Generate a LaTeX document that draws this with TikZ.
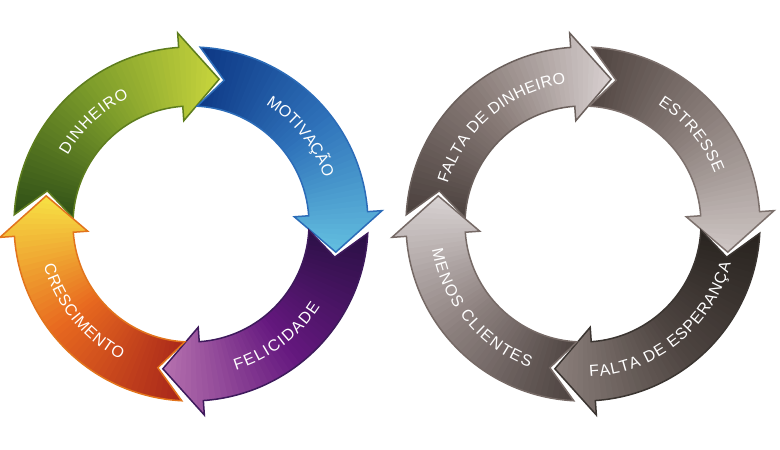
\documentclass[tikz,border=0pt]{standalone}
\usepackage{fontspec}
\newfontfamily\arrowfam{Liberation Sans}
\usetikzlibrary{decorations.text}
\newcommand\arrowfont{\arrowfam\fontsize{16}{16}\selectfont}
% left cycle colours
\definecolor{gTail}{HTML}{2F4F17}\definecolor{gMid}{HTML}{7A9A2A}\definecolor{gHead}{HTML}{C9D63D}\definecolor{gLine}{HTML}{5E7D1E}
\definecolor{bTail}{HTML}{0D3784}\definecolor{bMid}{HTML}{2F72BA}\definecolor{bHead}{HTML}{64C0E0}\definecolor{bLine}{HTML}{2C6CB8}
\definecolor{pTail}{HTML}{2A1045}\definecolor{pMid}{HTML}{65187F}\definecolor{pHead}{HTML}{B773AF}\definecolor{pLine}{HTML}{3E1A5C}
\definecolor{oTail}{HTML}{A8261A}\definecolor{oMid}{HTML}{E8691F}\definecolor{oHead}{HTML}{F7E445}\definecolor{oLine}{HTML}{E2741C}
% right cycle colours
\definecolor{aTail}{HTML}{4A403D}\definecolor{aMid}{HTML}{8A7D79}\definecolor{aHead}{HTML}{D9D1D1}\definecolor{aLine}{HTML}{6B605C}
\definecolor{eTail}{HTML}{4F4440}\definecolor{eMid}{HTML}{8E827E}\definecolor{eHead}{HTML}{CFC7C5}\definecolor{eLine}{HTML}{7D716D}
\definecolor{fTail}{HTML}{28231F}\definecolor{fMid}{HTML}{4E4541}\definecolor{fHead}{HTML}{8C807C}\definecolor{fLine}{HTML}{3B3531}
\definecolor{mTail}{HTML}{4D4340}\definecolor{mMid}{HTML}{8E8280}\definecolor{mHead}{HTML}{DAD4D4}\definecolor{mLine}{HTML}{766A66}

% #1 cx, #2 cy, #3 tip angle, #4 tail, #5 mid, #6 head, #7 border
\newcommand\cycarrow[7]{%
\begin{scope}[shift={(#1,#2)}]
\pgfmathsetmacro\T{#3}\pgfmathsetmacro\B{#3+15}%
\pgfmathsetmacro\A{#3+88}\pgfmathsetmacro\C{#3+98}%
\def\shapepath{(\C:177) arc[start angle=\C, end angle=\B, radius=177] -- (\B:191.5) -- (\T:147.5) -- (\B:103.5) -- (\B:118) arc[start angle=\B, end angle=\C, radius=118] -- (\A:147.5) -- cycle}%
\begin{scope}
\clip \shapepath;
\foreach \i in {0,...,50}{%
  \pgfmathsetmacro\ang{\C+1-2*\i}%
  \pgfmathsetmacro\f{min(100,max(0,(\C-\ang+1)/(\C-\T)*100))}%
  \ifdim\f pt<50pt
    \pgfmathtruncatemacro\g{2*\f}\colorlet{cc}{#5!\g!#4}%
  \else
    \pgfmathtruncatemacro\g{2*\f-100}\colorlet{cc}{#6!\g!#5}%
  \fi
  \fill[cc] (0,0) -- (\ang:205) -- ({\ang-2.6}:205) -- cycle;
}
\end{scope}
\draw[draw=#7, line width=1.5pt, line join=miter] \shapepath;
\end{scope}}

% #1 cx, #2 cy, #3 radius, #4 start angle, #5 end angle, #6 text
\newcommand\arctext[6]{%
\begin{scope}[shift={(#1,#2)}]
\path[decorate, decoration={text along path, text color=white, text align={fit to path}, text={|\arrowfont|#6}}] (#4:#3) arc[start angle=#4, end angle=#5, radius=#3];
\end{scope}}

\begin{document}
\begin{tikzpicture}[x=1pt, y=1pt]
\useasboundingbox[fill=white] (0,0) rectangle (780,450);
% left cycle, centre (191,226)
\cycarrow{191}{226}{79}{gTail}{gMid}{gHead}{gLine}
\cycarrow{191}{226}{-11}{bTail}{bMid}{bHead}{bLine}
\cycarrow{191}{226}{-101}{pTail}{pMid}{pHead}{pLine}
\cycarrow{191}{226}{169}{oTail}{oMid}{oHead}{oLine}
% right cycle, centre (583,226)
\cycarrow{583}{226}{79}{aTail}{aMid}{aHead}{aLine}
\cycarrow{583}{226}{-11}{eTail}{eMid}{eHead}{eLine}
\cycarrow{583}{226}{-101}{fTail}{fMid}{fHead}{fLine}
\cycarrow{583}{226}{169}{mTail}{mMid}{mHead}{mLine}
% labels
\arctext{191}{226}{141}{151}{116}{DINHEIRO}
\arctext{191}{226}{141}{58}{19}{MOTIVAÇÃO}
\arctext{191}{226}{153}{-73}{-32.5}{FELICIDADE}
\arctext{191}{226}{153}{195.7}{242.6}{CRESCIMENTO}
\arctext{583}{226}{141}{163.5}{97}{FALTA DE DINHEIRO}
\arctext{583}{226}{141}{57.9}{21}{ESTRESSE}
\arctext{583}{226}{153}{-87.5}{-15}{FALTA DE ESPERANÇA}
\arctext{583}{226}{153}{189.5}{249.5}{MENOS CLIENTES}
\end{tikzpicture}
\end{document}
